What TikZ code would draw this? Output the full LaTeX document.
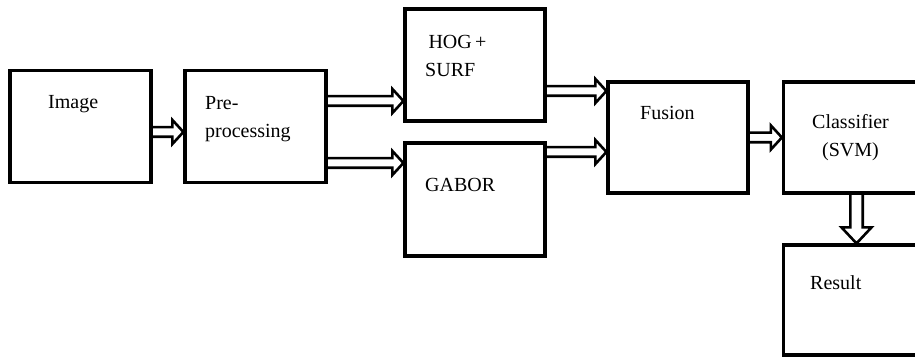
\documentclass[tikz,border=0pt]{standalone}
\usepackage{fontspec}
\setmainfont{Liberation Serif}
\usepackage{tikz}
\usetikzlibrary{positioning,calc}
\tikzset{
  blk/.style={draw=black,line width=3.2pt,minimum height=112pt,minimum width=141pt,inner sep=0pt},
  lbl/.style={font=\fontsize{20}{28}\selectfont,inner sep=0pt,align=left,anchor=base west},
  arrhalf/.store in=\arrhalf, arrbarb/.store in=\arrbarb, arrlen/.store in=\arrlen,
  arrhalf=4.8pt, arrbarb=12pt, arrlen=11pt,
  dbl/.style={draw=black,line width=2.6pt,miter limit=4,
    to path={let \p1=($(\tikztotarget)!\arrlen!(\tikztostart)$) in
      ($(\tikztostart)!\arrhalf!90:(\tikztotarget)$) -- ($(\p1)!\arrhalf!90:(\tikztotarget)$)
      -- ($(\p1)!\arrbarb!90:(\tikztotarget)$) -- (\tikztotarget)
      -- ($(\p1)!\arrbarb!-90:(\tikztotarget)$) -- ($(\p1)!\arrhalf!-90:(\tikztotarget)$)
      -- ($(\tikztostart)!\arrhalf!-90:(\tikztotarget)$)}},
}
\begin{document}
\begin{tikzpicture}[x=1pt,y=1pt]
  \useasboundingbox (0,0) rectangle (915,356);
  \clip (0,0) rectangle (915,356);
  % boxes
  \node[blk] (img) at (80.5,229.5) {};
  \node[blk] (pre) at (255.5,229.5) {};
  \node[blk,minimum width=140pt] (hog) at (475,291) {};
  \node[blk,minimum width=140pt,minimum height=113pt] (gab) at (475,156.5) {};
  \node[blk,minimum width=140pt,minimum height=111pt] (fus) at (678,218.5) {};
  \node[blk,minimum height=111pt] (cls) at (854,218.5) {};
  \node[blk,minimum height=110pt] (res) at (854,56) {};
  % texts
  \node[lbl] (img-t) at (48,247) {Image};
  \node[lbl] (pre-t) at (205,218) {Pre-\\processing};
  \node[lbl] (hog-t) at (425,279) {\,HOG\,+\\SURF};
  \node[lbl] (gab-t) at (425,164) {GABOR};
  \node[lbl] (fus-t) at (640,236) {Fusion};
  \node[lbl,align=center] (cls-t) at (812,199) {Classifier\\(SVM)};
  \node[lbl] (res-t) at (810,66) {Result};
  % connectors
  \draw[dbl] ([yshift=-5.5pt]img.east) to ([yshift=-5.5pt]pre.west);
  \draw[dbl] ([yshift=25.5pt]pre.east) to ([yshift=25.5pt]pre.east -| hog.west);
  \draw[dbl] ([yshift=-36.5pt]pre.east) to ([yshift=-36.5pt]pre.east -| gab.west);
  \draw[dbl] ([yshift=46.5pt]fus.west -| hog.east) to ([yshift=46.5pt]fus.west);
  \draw[dbl] ([yshift=-14.5pt]fus.west -| gab.east) to ([yshift=-14.5pt]fus.west);
  \draw[dbl] (fus.east) to (cls.west);
  \draw[dbl,arrhalf=6.2pt,arrbarb=15pt,arrlen=16pt] ([xshift=2.5pt]cls.south) to ([xshift=2.5pt]res.north);
\end{tikzpicture}
\end{document}
